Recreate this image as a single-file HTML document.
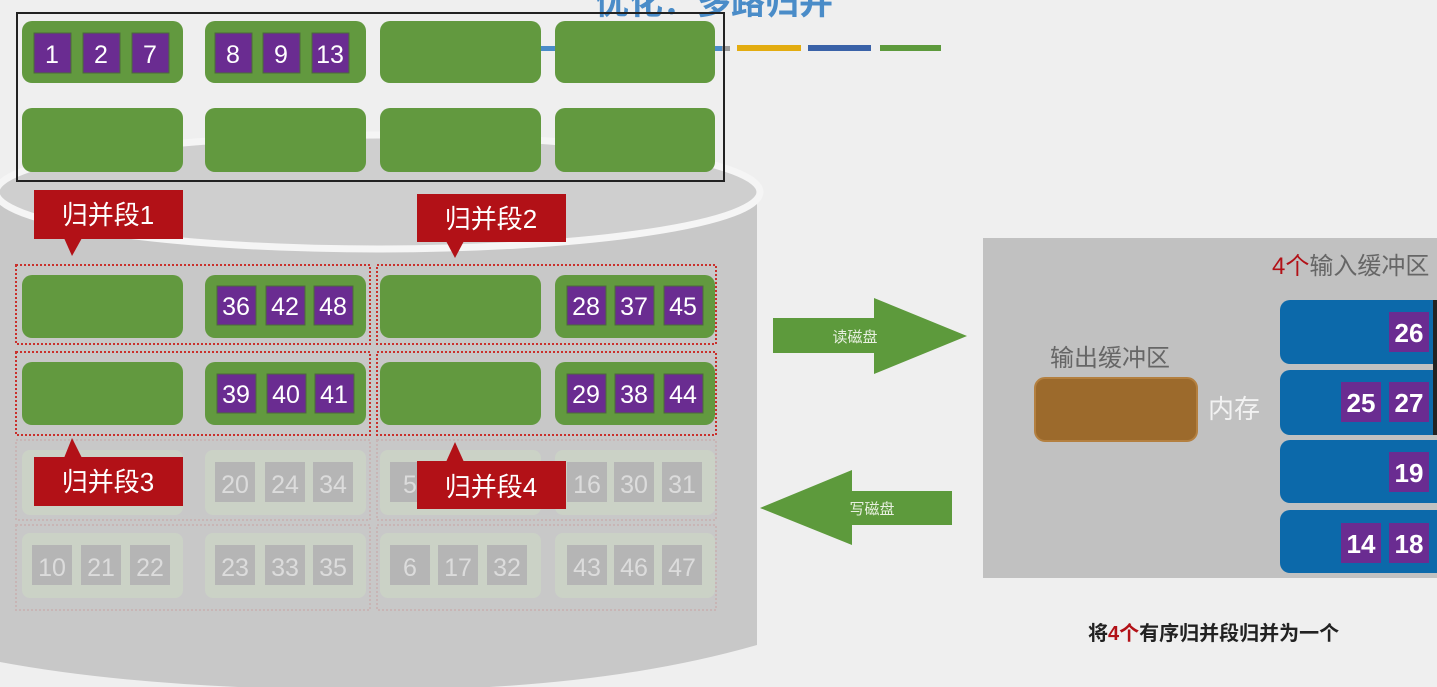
<!DOCTYPE html>
<html><head><meta charset="utf-8"><style>
html,body{margin:0;padding:0;background:#efefef;}
svg{display:block;font-family:"Liberation Sans","Noto Sans CJK SC",sans-serif;}
</style></head><body>
<svg width="1437" height="687" viewBox="0 0 1437 687" xmlns="http://www.w3.org/2000/svg">
<rect width="1437" height="687" fill="#efefef"/>
<!-- title -->
<text x="595" y="14" font-size="34" font-weight="bold" fill="#4a8cc8" font-family="Liberation Sans,Noto Sans CJK SC,sans-serif">优化：多路归并</text>
<rect x="540" y="46" width="190" height="5" fill="#4a8cc8"/>
<rect x="722" y="46" width="8" height="5" fill="#999"/>
<rect x="737" y="45" width="64" height="6" fill="#e3ac10"/>
<rect x="808" y="45" width="63" height="6" fill="#3a62a8"/>
<rect x="880" y="45" width="61" height="6" fill="#5d9a3c"/>
<!-- cylinder -->
<path d="M0,190 L757,190 L757,645 Q600,690 380,690 Q150,690 0,662 Z" fill="#c8c8c8"/>
<ellipse cx="378" cy="192" rx="382" ry="57" fill="#cfcfcf" stroke="#f5f5f5" stroke-width="7"/>
<!-- black frame -->
<rect x="17" y="13" width="707" height="168" fill="none" stroke="#222" stroke-width="2"/>
<g fill="#62993f">
<rect x="22" y="21" width="161" height="62" rx="10"/>
<rect x="205" y="21" width="161" height="62" rx="10"/>
<rect x="380" y="21" width="161" height="62" rx="10"/>
<rect x="555" y="21" width="160" height="62" rx="10"/>
<rect x="22" y="108" width="161" height="64" rx="10"/>
<rect x="205" y="108" width="161" height="64" rx="10"/>
<rect x="380" y="108" width="161" height="64" rx="10"/>
<rect x="555" y="108" width="160" height="64" rx="10"/>
</g>
<g fill="#6a2c91" stroke="#4c6a3a" stroke-width="1">
<rect x="34" y="33" width="37" height="40"/><rect x="83" y="33" width="37" height="40"/><rect x="132" y="33" width="37" height="40"/>
<rect x="215" y="33" width="37" height="40"/><rect x="263" y="33" width="37" height="40"/><rect x="312" y="33" width="37" height="40"/>
</g>
<g fill="#fff" font-size="25" text-anchor="middle">
<text x="52" y="63">1</text><text x="101" y="63">2</text><text x="150" y="63">7</text>
<text x="233" y="63">8</text><text x="281" y="63">9</text><text x="330" y="63">13</text>
</g>
<!-- faded rows -->
<g opacity="0.45">
<g fill="none" stroke="#c9a0a0" stroke-width="2" stroke-dasharray="2,2">
<rect x="16" y="440" width="354" height="80"/><rect x="377" y="440" width="339" height="80"/>
<rect x="16" y="525" width="354" height="85"/><rect x="377" y="525" width="339" height="85"/>
</g>
<g fill="#cfe0c4">
<rect x="22" y="450" width="161" height="65" rx="8"/><rect x="205" y="450" width="161" height="65" rx="8"/>
<rect x="380" y="450" width="161" height="65" rx="8"/><rect x="555" y="450" width="160" height="65" rx="8"/>
<rect x="22" y="533" width="161" height="65" rx="8"/><rect x="205" y="533" width="161" height="65" rx="8"/>
<rect x="380" y="533" width="161" height="65" rx="8"/><rect x="555" y="533" width="160" height="65" rx="8"/>
</g>
</g>
<g fill="#b5b5b5">
<rect x="215" y="462" width="40" height="40"/><rect x="265" y="462" width="40" height="40"/><rect x="313" y="462" width="40" height="40"/>
<rect x="390" y="462" width="40" height="40"/>
<rect x="567" y="462" width="40" height="40"/><rect x="614" y="462" width="40" height="40"/><rect x="662" y="462" width="40" height="40"/>
<rect x="32" y="545" width="40" height="40"/><rect x="81" y="545" width="40" height="40"/><rect x="130" y="545" width="40" height="40"/>
<rect x="215" y="545" width="40" height="40"/><rect x="265" y="545" width="40" height="40"/><rect x="313" y="545" width="40" height="40"/>
<rect x="390" y="545" width="40" height="40"/><rect x="438" y="545" width="40" height="40"/><rect x="487" y="545" width="40" height="40"/>
<rect x="567" y="545" width="40" height="40"/><rect x="614" y="545" width="40" height="40"/><rect x="662" y="545" width="40" height="40"/>
</g>
<g fill="#dcdcdc" font-size="25" text-anchor="middle">
<text x="235" y="493">20</text><text x="285" y="493">24</text><text x="333" y="493">34</text>
<text x="410" y="493">5</text>
<text x="587" y="493">16</text><text x="634" y="493">30</text><text x="682" y="493">31</text>
<text x="52" y="576">10</text><text x="101" y="576">21</text><text x="150" y="576">22</text>
<text x="235" y="576">23</text><text x="285" y="576">33</text><text x="333" y="576">35</text>
<text x="410" y="576">6</text><text x="458" y="576">17</text><text x="507" y="576">32</text>
<text x="587" y="576">43</text><text x="634" y="576">46</text><text x="682" y="576">47</text>
</g>
<!-- active rows -->
<g fill="#62993f">
<rect x="22" y="275" width="161" height="63" rx="10"/><rect x="205" y="275" width="161" height="63" rx="10"/>
<rect x="380" y="275" width="161" height="63" rx="10"/><rect x="555" y="275" width="160" height="63" rx="10"/>
<rect x="22" y="362" width="161" height="63" rx="10"/><rect x="205" y="362" width="161" height="63" rx="10"/>
<rect x="380" y="362" width="161" height="63" rx="10"/><rect x="555" y="362" width="160" height="63" rx="10"/>
</g>
<g fill="none" stroke="#c9302c" stroke-width="2" stroke-dasharray="2,2">
<rect x="16" y="265" width="354" height="79"/><rect x="377" y="265" width="339" height="79"/>
<rect x="16" y="352" width="354" height="83"/><rect x="377" y="352" width="339" height="83"/>
</g>
<g fill="#6a2c91" stroke="#4c6a3a" stroke-width="1">
<rect x="217" y="286" width="39" height="39"/><rect x="266" y="286" width="39" height="39"/><rect x="314" y="286" width="39" height="39"/>
<rect x="567" y="286" width="39" height="39"/><rect x="615" y="286" width="39" height="39"/><rect x="664" y="286" width="39" height="39"/>
<rect x="217" y="374" width="39" height="39"/><rect x="267" y="374" width="39" height="39"/><rect x="315" y="374" width="39" height="39"/>
<rect x="567" y="374" width="39" height="39"/><rect x="615" y="374" width="39" height="39"/><rect x="664" y="374" width="39" height="39"/>
</g>
<g fill="#fff" font-size="25" text-anchor="middle">
<text x="236" y="315">36</text><text x="285" y="315">42</text><text x="333" y="315">48</text>
<text x="586" y="315">28</text><text x="634" y="315">37</text><text x="683" y="315">45</text>
<text x="236" y="403">39</text><text x="286" y="403">40</text><text x="334" y="403">41</text>
<text x="586" y="403">29</text><text x="634" y="403">38</text><text x="683" y="403">44</text>
</g>
<!-- red labels -->
<g fill="#b21117">
<rect x="34" y="190" width="149" height="49"/><path d="M64,238 L82,238 L72,256 Z"/>
<rect x="417" y="194" width="149" height="48"/><path d="M446,241 L464,241 L455,258 Z"/>
<rect x="34" y="457" width="149" height="49"/><path d="M64,458 L82,458 L72,438 Z"/>
<rect x="417" y="461" width="149" height="48"/><path d="M446,462 L464,462 L455,442 Z"/>
</g>
<g fill="#fff" font-size="26" text-anchor="middle">
<text x="108" y="224">归并段1</text><text x="491" y="228">归并段2</text>
<text x="108" y="491">归并段3</text><text x="491" y="496">归并段4</text>
</g>
<!-- arrows -->
<path d="M773,318 L874,318 L874,298 L967,336 L874,374 L874,353 L773,353 Z" fill="#5d9a3c"/>
<text x="855" y="342" font-size="15" fill="#e8f0e0" text-anchor="middle">读磁盘</text>
<path d="M760,508 L852,470 L852,491 L952,491 L952,525 L852,525 L852,545 Z" fill="#5d9a3c"/>
<text x="872" y="514" font-size="15" fill="#e8f0e0" text-anchor="middle">写磁盘</text>
<!-- memory -->
<rect x="983" y="238" width="454" height="340" fill="#c1c1c1"/>
<text x="1272" y="274" font-size="24" fill="#666"><tspan fill="#b21117">4个</tspan>输入缓冲区</text>
<text x="1050" y="366" font-size="24" fill="#666">输出缓冲区</text>
<rect x="1035" y="378" width="162" height="63" rx="10" fill="#9c6a2c" stroke="#b48040" stroke-width="2"/>
<text x="1208" y="418" font-size="26" fill="#f2f2f2">内存</text>
<g fill="#0c69aa">
<rect x="1280" y="300" width="170" height="64" rx="10"/>
<rect x="1280" y="370" width="170" height="65" rx="10"/>
<rect x="1280" y="440" width="170" height="63" rx="10"/>
<rect x="1280" y="510" width="170" height="63" rx="10"/>
</g>
<g fill="#6a2c91">
<rect x="1389" y="312" width="40" height="40"/>
<rect x="1341" y="382" width="40" height="40"/><rect x="1389" y="382" width="40" height="40"/>
<rect x="1389" y="452" width="40" height="40"/>
<rect x="1341" y="523" width="40" height="40"/><rect x="1389" y="523" width="40" height="40"/>
</g>
<g fill="#fff" font-size="26" font-weight="bold" text-anchor="middle">
<text x="1409" y="342">26</text>
<text x="1361" y="412">25</text><text x="1409" y="412">27</text>
<text x="1409" y="482">19</text>
<text x="1361" y="553">14</text><text x="1409" y="553">18</text>
</g>
<rect x="1433" y="300" width="4" height="135" fill="#222"/>
<text x="1088" y="640" font-size="20" font-weight="bold" fill="#222">将<tspan fill="#b21117">4个</tspan>有序归并段归并为一个</text>
</svg>
</body></html>
